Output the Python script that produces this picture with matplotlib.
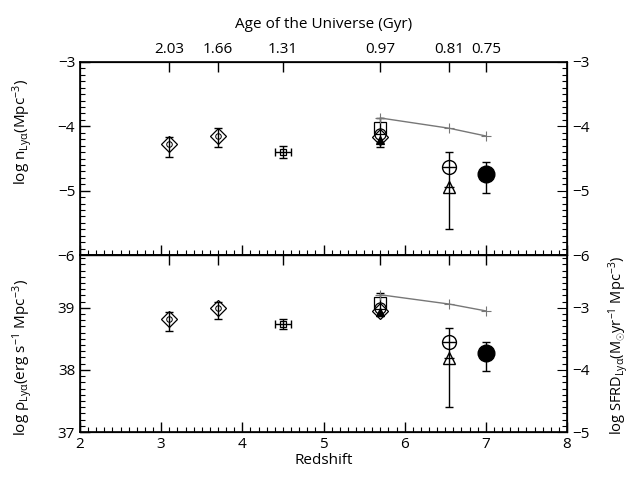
import matplotlib
matplotlib.use('Agg')
from matplotlib import pyplot as plt
from matplotlib.ticker import MultipleLocator

plt.rcParams['font.family'] = ['Open Sans', 'DejaVu Sans']
plt.rcParams['mathtext.fontset'] = 'custom'
plt.rcParams['mathtext.rm'] = 'Open Sans'
plt.rcParams['mathtext.it'] = 'Open Sans:italic'
plt.rcParams['mathtext.default'] = 'rm'

# age of the universe axis (top)
age_z = [3.1, 3.7, 4.5, 5.7, 6.55, 7.0]
age_labels = ['2.03', '1.66', '1.31', '0.97', '0.81', '0.75']

# number density, log n (Mpc^-3)
n_dia_z = [3.1, 3.7]
n_dia = [-4.28, -4.15]
n_dia_lo = [0.20, 0.17]
n_dia_hi = [0.11, 0.12]
n_z45 = -4.40
n_z45_err = 0.09
n_z57 = {'s': -4.03, 'o': -4.12, 'D': -4.16, '^': -4.22}
n_z57_bar = (-4.32, -3.87)
n_z65_circ = -4.63
n_z65_tri = -4.94
n_z65_bar = (-5.60, -4.40)
n_z7 = -4.74
n_z7_lo, n_z7_hi = 0.30, 0.18
n_line = [-3.87, -4.03, -4.15]

# luminosity density, log rho (erg s^-1 Mpc^-3)
r_dia = [38.82, 39.00]
r_dia_lo = [0.19, 0.18]
r_dia_hi = [0.12, 0.10]
r_z45 = 38.74
r_z45_err = 0.08
r_z57 = {'s': 39.08, 'o': 38.99, 'D': 38.95, '^': 38.93}
r_z57_bar = (38.86, 39.24)
r_z65_circ = 38.45
r_z65_tri = 38.19
r_z65_bar = (37.40, 38.68)
r_z7 = 38.27
r_z7_lo, r_z7_hi = 0.29, 0.18
r_line = [39.21, 39.06, 38.95]

line_z = [5.7, 6.55, 7.0]
z45_xerr = 0.1


def draw_panel(ax, dia, dia_lo, dia_hi, z45, z45_err, z57, z57_bar,
               c65, t65, bar65, p7, lo7, hi7, line):
    eb = dict(fmt='none', ecolor='black', elinewidth=1, capsize=3, zorder=2)
    ax.errorbar(n_dia_z, dia, yerr=[dia_lo, dia_hi], **eb)
    ax.plot(n_dia_z, dia, 'D', ms=8, mfc='none', mec='black', mew=0.9)
    ax.plot(n_dia_z, dia, 'o', ms=4, mfc='none', mec='black', mew=0.7)
    ax.errorbar([4.5], [z45], xerr=z45_xerr, yerr=z45_err, **eb)
    ax.plot([4.5], [z45], 's', ms=5, mfc='none', mec='black', mew=0.9)
    ax.errorbar([5.7], [z57_bar[0]], yerr=[[0], [z57_bar[1] - z57_bar[0]]], **eb)
    for m, v in z57.items():
        filled = m == '^'
        ax.plot([5.7], [v], m, ms=6 if filled else 8,
                mfc='black' if filled else 'none', mec='black', mew=0.9)
    ax.errorbar([6.55], [bar65[0]], yerr=[[0], [bar65[1] - bar65[0]]], **eb)
    ax.plot([6.55], [c65], 'o', ms=10, mfc='none', mec='black', mew=1)
    ax.plot([6.55], [c65], '_', ms=10, color='black', mew=1)
    ax.plot([6.55], [t65], '^', ms=9, mfc='none', mec='black', mew=1)
    ax.plot([6.55], [t65], '_', ms=7, color='black', mew=1)
    ax.errorbar([7.0], [p7], yerr=[[lo7], [hi7]], **eb)
    ax.plot([7.0], [p7], 'o', ms=12, color='black')
    ax.plot(line_z, line, '-', color='#777777', lw=1, marker='+', ms=7, mew=0.8)

    ax.set_xlim(2, 8)
    ax.xaxis.set_major_locator(MultipleLocator(1))
    ax.xaxis.set_minor_locator(MultipleLocator(0.1))
    ax.yaxis.set_major_locator(MultipleLocator(1))
    ax.yaxis.set_minor_locator(MultipleLocator(0.1))
    ax.tick_params(which='both', direction='in', top=False, right=False)
    ax.tick_params(which='major', length=7, width=1)
    ax.tick_params(which='minor', length=3.5, width=0.8)
    for s in ax.spines.values():
        s.set_linewidth(1.2)

    top = ax.twiny()
    top.set_xlim(2, 8)
    top.set_xticks(age_z)
    top.tick_params(direction='in', length=7, width=1)
    return top


fig = plt.figure(figsize=(6.31, 4.78), dpi=100)
ax1 = fig.add_axes([0.1268, 0.4665, 0.7718, 0.4038])
ax2 = fig.add_axes([0.1268, 0.0962, 0.7718, 0.3703])

top1 = draw_panel(ax1, n_dia, n_dia_lo, n_dia_hi, n_z45, n_z45_err, n_z57,
                  n_z57_bar, n_z65_circ, n_z65_tri, n_z65_bar, n_z7,
                  n_z7_lo, n_z7_hi, n_line)
top2 = draw_panel(ax2, r_dia, r_dia_lo, r_dia_hi, r_z45, r_z45_err, r_z57,
                  r_z57_bar, r_z65_circ, r_z65_tri, r_z65_bar, r_z7,
                  r_z7_lo, r_z7_hi, r_line)

fs = 11
ax1.set_ylim(-6, -3)
ax1.set_xticklabels([])
ax1.tick_params(labelsize=fs)
top1.set_xticklabels(age_labels, fontsize=fs)
top1.set_xlabel('Age of the Universe (Gyr)', fontsize=fs, labelpad=10)
ax1.set_yticks([-6, -5, -4, -3])
ax1.set_ylabel(r'log n$_{\mathrm{Ly}\alpha}$(Mpc$^{-3}$)', fontsize=fs)
ax1.yaxis.set_label_coords(-0.092, 0.64)

r1 = ax1.twinx()
r1.set_ylim(-6, -3)
r1.yaxis.set_major_locator(MultipleLocator(1))
r1.yaxis.set_minor_locator(MultipleLocator(0.1))
r1.tick_params(which='both', direction='in', labelsize=fs)
r1.tick_params(which='major', length=7)
r1.tick_params(which='minor', length=3.5, width=0.8)

top2.set_xticklabels([])
ax2.set_ylim(37, 39.85)
ax2.set_yticks([37, 38, 39])
ax2.tick_params(labelsize=fs)
ax2.set_xlabel('Redshift', fontsize=fs, labelpad=1)
ax2.set_ylabel(r'log $\rho_{\mathrm{Ly}\alpha}$(erg s$^{-1}$ Mpc$^{-3}$)', fontsize=fs)
ax2.yaxis.set_label_coords(-0.092, 0.42)

r2 = ax2.twinx()
r2.set_ylim(37 - 42, 39.85 - 42)
r2.set_yticks([-5, -4, -3])
r2.yaxis.set_minor_locator(MultipleLocator(0.1))
r2.tick_params(which='both', direction='in', labelsize=fs)
r2.tick_params(which='major', length=7)
r2.tick_params(which='minor', length=3.5, width=0.8)
r2.set_ylabel(r'log SFRD$_{\mathrm{Ly}\alpha}$(M$_{\odot}$yr$^{-1}$ Mpc$^{-3}$)', fontsize=10.5)
r2.yaxis.set_label_coords(1.082, 0.49)

plt.savefig('out.png', dpi=100)
